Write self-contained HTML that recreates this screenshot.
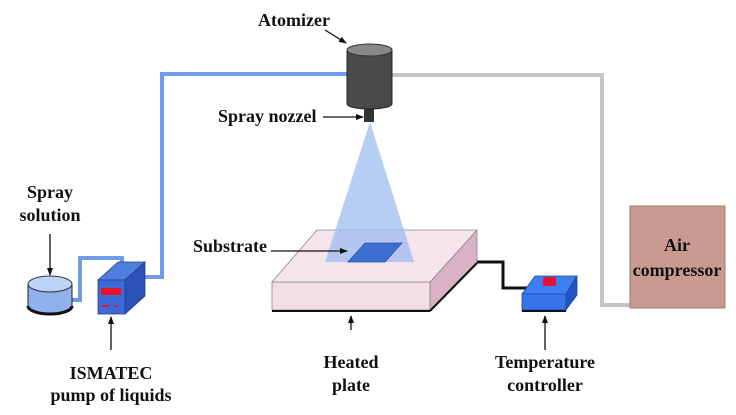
<!DOCTYPE html>
<html><head><style>
body{margin:0;background:#fff;width:736px;height:410px;overflow:hidden}
svg text{font-family:"Liberation Serif",serif;font-weight:bold;font-size:18px;fill:#111}
</style></head><body>
<svg width="736" height="410" viewBox="0 0 736 410" xmlns="http://www.w3.org/2000/svg">
<defs>
<marker id="a" markerWidth="8" markerHeight="8" refX="7" refY="4" orient="auto" markerUnits="userSpaceOnUse"><path d="M0,1 L8,4 L0,7z" fill="#111"/></marker>
</defs>
<polyline points="347,74 162,74 162,277 135,277" fill="none" stroke="#6f9be8" stroke-width="4"/>
<polyline points="70,300 80,300 80,258 122,258 122,272" fill="none" stroke="#6f9be8" stroke-width="4"/>
<polyline points="392,75 602,75 602,305 632,305" fill="none" stroke="#c4c4c4" stroke-width="4"/>
<polygon points="272,282 430,282 430,310 272,310" fill="#f3dde6" stroke="#888" stroke-width="0.8"/>
<polygon points="430,282 477,230 477,262 430,310" fill="#d8b2c2" stroke="#888" stroke-width="0.8"/>
<polygon points="317,230 477,230 430,282 272,282" fill="#f6e4ec" stroke="#888" stroke-width="0.8"/>
<line x1="272" y1="311" x2="430" y2="311" stroke="#111" stroke-width="2"/>
<line x1="430" y1="311" x2="477" y2="263" stroke="#111" stroke-width="2"/>
<polygon points="370,122 325,262 414,262" fill="#9dbcf0" opacity="0.75"/>
<polygon points="348,262 365,243 402,243 385,262" fill="#3d6fd1" stroke="#2a55b0" stroke-width="0.8"/>
<polyline points="477,262 503,262 503,288 530,288" fill="none" stroke="#111" stroke-width="3"/>
<rect x="364" y="106" width="10" height="16" fill="#333"/>
<path d="M347,50 L347,104 A22.5,5 0 0 0 392,104 L392,50 Z" fill="#4a4a4a" stroke="#222"/>
<ellipse cx="369.5" cy="50" rx="22.5" ry="6" fill="#888" stroke="#333"/>
<path d="M28,284 L28,306 A22,8 0 0 0 72,306 L72,284 Z" fill="#8fb2ec" stroke="#222" stroke-width="1"/>
<path d="M28,306 A22,8 0 0 0 72,306" fill="none" stroke="#111" stroke-width="3"/>
<ellipse cx="50" cy="284" rx="22" ry="8" fill="#bcd2f7" stroke="#333" stroke-width="1"/>
<polygon points="98,280 118,262 145,262 125,280" fill="#4f7ee0" stroke="#22408a" stroke-width="0.8"/>
<polygon points="125,280 145,262 145,296 125,314" fill="#2a52b8" stroke="#22408a" stroke-width="0.8"/>
<rect x="98" y="280" width="27" height="34" fill="#3d6ad6" stroke="#22408a" stroke-width="0.8"/>
<rect x="101" y="288" width="20" height="7" fill="#e8102a"/>
<rect x="102" y="305" width="7" height="2" fill="#e8102a"/>
<rect x="115" y="305" width="3" height="2" fill="#e8102a"/>
<polygon points="522,294 535,276 577,276 566,294" fill="#3f7ef0" stroke="#1d4aa8" stroke-width="0.8"/>
<polygon points="566,294 577,276 577,295 566,310" fill="#2155c2" stroke="#1d4aa8" stroke-width="0.8"/>
<rect x="522" y="294" width="44" height="16" fill="#3574ea" stroke="#1d4aa8" stroke-width="0.8"/>
<line x1="522" y1="311" x2="566" y2="311" stroke="#111" stroke-width="2"/>
<rect x="543" y="277" width="13" height="9" rx="2" fill="#e8102a"/>
<rect x="630" y="206" width="95" height="102" fill="#c89a90" stroke="#a27a72"/>
<text x="677" y="251" text-anchor="middle">Air</text>
<text x="677" y="276" text-anchor="middle">compressor</text>
<text x="258" y="26">Atomizer</text>
<line x1="325" y1="30" x2="346" y2="43" stroke="#111" stroke-width="1.3" marker-end="url(#a)"/>
<text x="218" y="122">Spray nozzel</text>
<line x1="323" y1="117" x2="363" y2="117" stroke="#111" stroke-width="1.3" marker-end="url(#a)"/>
<text x="50" y="198" text-anchor="middle">Spray</text>
<text x="50" y="221" text-anchor="middle">solution</text>
<line x1="50" y1="234" x2="50" y2="275" stroke="#111" stroke-width="1.3" marker-end="url(#a)"/>
<text x="193" y="252">Substrate</text>
<line x1="271" y1="251" x2="347" y2="251" stroke="#111" stroke-width="1.3" marker-end="url(#a)"/>
<line x1="111" y1="350" x2="111" y2="317" stroke="#111" stroke-width="1.3" marker-end="url(#a)"/>
<text x="111" y="379" text-anchor="middle">ISMATEC</text>
<text x="111" y="401" text-anchor="middle">pump of liquids</text>
<line x1="351" y1="330" x2="351" y2="316" stroke="#111" stroke-width="1.3" marker-end="url(#a)"/>
<text x="351" y="368" text-anchor="middle">Heated</text>
<text x="351" y="391" text-anchor="middle">plate</text>
<line x1="545" y1="350" x2="545" y2="316" stroke="#111" stroke-width="1.3" marker-end="url(#a)"/>
<text x="545" y="368" text-anchor="middle">Temperature</text>
<text x="545" y="391" text-anchor="middle">controller</text>
</svg>
</body></html>
